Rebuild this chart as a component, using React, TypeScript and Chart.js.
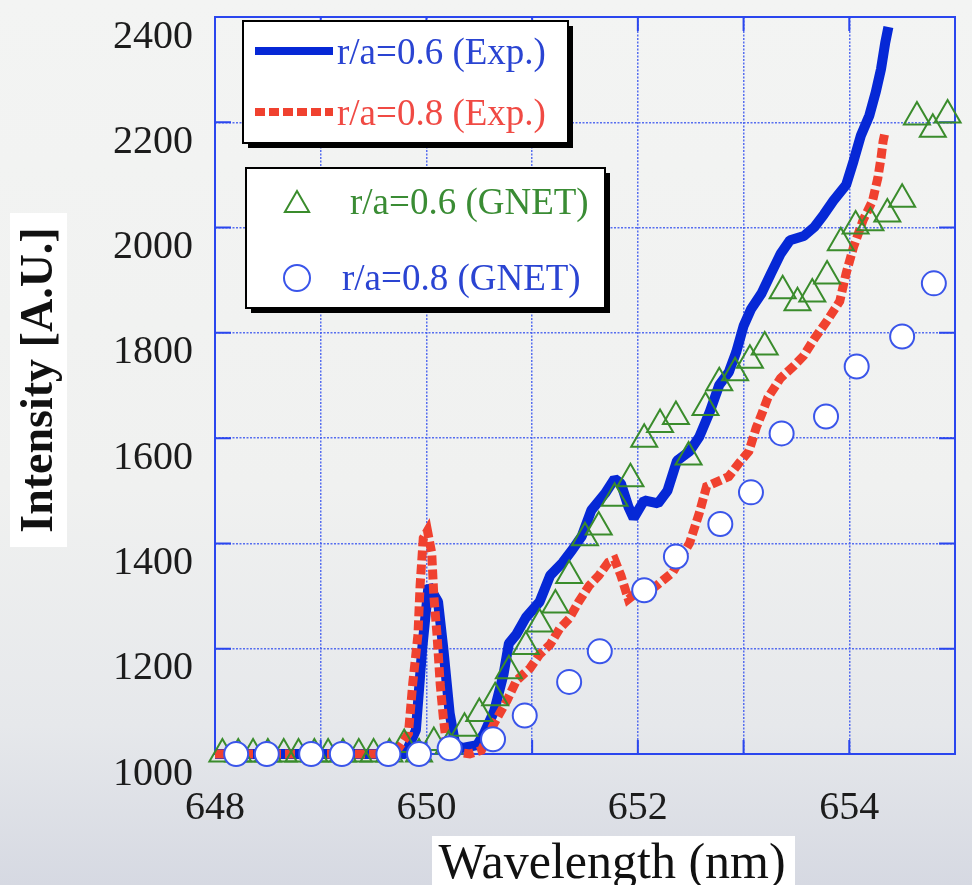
import React, { useEffect, useRef } from "react";
import { Chart, registerables } from "chart.js";

Chart.register(...registerables);

// ---------- data ----------
const xTickLabels = [648, 650, 652, 654];
const yTickValues = [1000, 1200, 1400, 1600, 1800, 2000, 2200, 2400];

const legendLabels = ["r/a=0.6 (Exp.)", "r/a=0.8 (Exp.)", "r/a=0.6 (GNET)", "r/a=0.8 (GNET)"];
const xTitle = "Wavelength (nm)";
const yTitle = "Intensity [A.U.]";

const exp06X = [648.0, 649.8, 649.9, 649.96, 650.02, 650.11, 650.16, 650.22, 650.27, 650.33, 650.48, 650.55, 650.64, 650.73, 650.78, 650.85, 650.94, 651.07, 651.17, 651.29, 651.38, 651.47, 651.56, 651.69, 651.78, 651.84, 651.91, 651.96, 652.06, 652.19, 652.28, 652.37, 652.49, 652.58, 652.68, 652.77, 652.86, 652.93, 653.0, 653.07, 653.17, 653.26, 653.35, 653.44, 653.57, 653.67, 653.76, 653.85, 653.97, 654.04, 654.11, 654.19, 654.25, 654.3, 654.34, 654.37];
const exp06Y = [1000, 1000, 1045, 1200, 1320, 1289, 1200, 1077, 1021, 1011, 1017, 1041, 1081, 1152, 1210, 1227, 1259, 1289, 1339, 1364, 1388, 1414, 1463, 1495, 1523, 1514, 1470, 1448, 1482, 1476, 1500, 1557, 1575, 1602, 1650, 1701, 1725, 1763, 1813, 1845, 1875, 1913, 1950, 1976, 1984, 2001, 2025, 2051, 2081, 2126, 2175, 2213, 2257, 2301, 2351, 2381];

const exp08X = [648.0, 649.7, 649.83, 649.87, 649.92, 649.94, 649.97, 650.01, 650.05, 650.07, 650.1, 650.13, 650.16, 650.19, 650.27, 650.41, 650.52, 650.64, 650.76, 650.85, 650.98, 651.07, 651.17, 651.26, 651.35, 651.44, 651.54, 651.63, 651.72, 651.78, 651.84, 651.91, 651.96, 652.06, 652.19, 652.33, 652.49, 652.58, 652.65, 652.77, 652.86, 652.95, 653.05, 653.12, 653.17, 653.23, 653.35, 653.48, 653.57, 653.67, 653.79, 653.91, 653.97, 654.04, 654.13, 654.22, 654.27, 654.3, 654.32, 654.34];
const exp08Y = [1000, 1000, 1039, 1133, 1227, 1320, 1410, 1424, 1382, 1300, 1227, 1133, 1069, 1017, 1004, 1000, 1007, 1058, 1101, 1139, 1163, 1189, 1208, 1238, 1257, 1289, 1320, 1339, 1364, 1369, 1339, 1294, 1302, 1302, 1322, 1345, 1401, 1457, 1508, 1519, 1527, 1551, 1575, 1620, 1645, 1677, 1714, 1738, 1757, 1789, 1823, 1860, 1913, 1963, 2014, 2051, 2094, 2132, 2164, 2183];

const gnet06X = [648.07, 648.22, 648.36, 648.5, 648.65, 648.79, 648.94, 649.07, 649.21, 649.36, 649.5, 649.65, 649.79, 649.93, 650.07, 650.21, 650.36, 650.5, 650.65, 650.78, 650.94, 651.07, 651.22, 651.35, 651.5, 651.63, 651.78, 651.93, 652.06, 652.21, 652.36, 652.48, 652.64, 652.77, 652.92, 653.06, 653.2, 653.37, 653.51, 653.65, 653.79, 653.92, 654.06, 654.2, 654.36, 654.5, 654.64, 654.79, 654.93];
const gnet06Y = [1000, 1000, 1000, 1000, 1000, 1000, 1000, 1000, 1000, 1000, 1000, 1000, 1018, 1000, 1022, 1015, 1049, 1077, 1107, 1158, 1204, 1247, 1283, 1339, 1411, 1431, 1486, 1523, 1598, 1626, 1641, 1564, 1658, 1705, 1724, 1748, 1773, 1880, 1857, 1874, 1908, 1971, 2003, 2009, 2026, 2054, 2210, 2187, 2214];

const gnet08X = [648.2, 648.49, 648.91, 649.2, 649.64, 649.93, 650.22, 650.63, 650.93, 651.35, 651.64, 652.06, 652.36, 652.78, 653.07, 653.36, 653.78, 654.07, 654.5, 654.8];
const gnet08Y = [1000, 1000, 1000, 1000, 1000, 1000, 1011, 1028, 1073, 1137, 1195, 1311, 1375, 1437, 1497, 1609, 1641, 1736, 1793, 1894];

// ---------- styles ----------
const W = 972;
const H = 885;
const SERIF = "'Liberation Serif', 'Times New Roman', 'DejaVu Serif', serif";
const BLUE_LINE = "#0628d6";
const RED_LINE = "#f0412f";
const GREEN = "#3a8c2c";
const CIRCLE_BLUE = "#3a55ea";
const AXIS_BLUE = "#2a46ee";
const GRID_BLUE = "rgba(70,95,238,0.9)";
const RED_DASH = [10, 4];

const zip = (xs: number[], ys: number[]) => xs.map((x, i) => ({ x, y: ys[i] }));

const framePlugin = {
  id: "frameTicks",
  beforeDatasetsDraw(chart: any) {
    const { ctx, chartArea: a, scales } = chart;
    const xs = scales.x;
    const ys = scales.y;
    ctx.save();
    ctx.strokeStyle = AXIS_BLUE;
    ctx.lineWidth = 2;
    ctx.setLineDash([]);
    ctx.strokeRect(a.left, a.top, a.right - a.left, a.bottom - a.top);
    ctx.beginPath();
    for (let v = 648; v <= 655; v += 1) {
      const px = xs.getPixelForValue(v);
      ctx.moveTo(px, a.bottom);
      ctx.lineTo(px, a.bottom - 14);
      ctx.moveTo(px, a.top);
      ctx.lineTo(px, a.top + 14);
    }
    for (const v of yTickValues) {
      const py = ys.getPixelForValue(v);
      ctx.moveTo(a.left, py);
      ctx.lineTo(a.left + 16, py);
      ctx.moveTo(a.right, py);
      ctx.lineTo(a.right - 16, py);
    }
    ctx.stroke();
    ctx.restore();
  },
};

const titlesPlugin = {
  id: "titlesBoxes",
  beforeDraw(chart: any) {
    const { ctx } = chart;
    ctx.save();
    ctx.fillStyle = "#ffffff";
    ctx.fillRect(10, 213, 57, 334);
    ctx.fillRect(432, 836, 363, 49);
    ctx.fillStyle = "#111111";
    ctx.font = `bold 46px ${SERIF}`;
    ctx.textAlign = "center";
    ctx.textBaseline = "middle";
    ctx.translate(40, 380);
    ctx.rotate(-Math.PI / 2);
    ctx.fillText(yTitle, 0, 0);
    ctx.setTransform(1, 0, 0, 1, 0, 0);
    ctx.font = `50px ${SERIF}`;
    ctx.textAlign = "center";
    ctx.textBaseline = "alphabetic";
    ctx.fillText(xTitle, 612, 878);
    ctx.restore();
  },
};

function drawBox(ctx: CanvasRenderingContext2D, x: number, y: number, w: number, h: number) {
  ctx.fillStyle = "#000000";
  ctx.fillRect(x + 5, y + 5, w, h);
  ctx.fillStyle = "#ffffff";
  ctx.fillRect(x, y, w, h);
  ctx.strokeStyle = "#000000";
  ctx.lineWidth = 2;
  ctx.strokeRect(x, y, w, h);
}

const legendPlugin = {
  id: "customLegend",
  afterDraw(chart: any) {
    const { ctx } = chart;
    ctx.save();
    drawBox(ctx, 243, 21, 325, 122);
    drawBox(ctx, 246, 168, 359, 140);
    ctx.font = `37px ${SERIF}`;
    ctx.textAlign = "left";
    ctx.textBaseline = "middle";
    ctx.strokeStyle = BLUE_LINE;
    ctx.lineWidth = 8;
    ctx.beginPath();
    ctx.moveTo(255, 51);
    ctx.lineTo(333, 51);
    ctx.stroke();
    ctx.fillStyle = "#2a44d2";
    ctx.fillText(legendLabels[0], 337, 54);
    ctx.strokeStyle = RED_LINE;
    ctx.setLineDash(RED_DASH);
    ctx.beginPath();
    ctx.moveTo(255, 112);
    ctx.lineTo(333, 112);
    ctx.stroke();
    ctx.setLineDash([]);
    ctx.fillStyle = "#f04a44";
    ctx.fillText(legendLabels[1], 337, 115);
    const r = 14;
    const tx = 297, ty = 205;
    ctx.strokeStyle = GREEN;
    ctx.lineWidth = 2;
    ctx.beginPath();
    ctx.moveTo(tx, ty - r);
    ctx.lineTo(tx + Math.sin((2 * Math.PI) / 3) * r, ty - Math.cos((2 * Math.PI) / 3) * r);
    ctx.lineTo(tx + Math.sin((4 * Math.PI) / 3) * r, ty - Math.cos((4 * Math.PI) / 3) * r);
    ctx.closePath();
    ctx.stroke();
    ctx.fillStyle = "#3a8c34";
    ctx.fillText(legendLabels[2], 350, 204);
    ctx.strokeStyle = CIRCLE_BLUE;
    ctx.beginPath();
    ctx.arc(297, 278, 13, 0, Math.PI * 2);
    ctx.stroke();
    ctx.fillStyle = "#2a44d2";
    ctx.fillText(legendLabels[3], 342, 280);
    ctx.restore();
  },
};

export default function App() {
  const canvasRef = useRef<HTMLCanvasElement | null>(null);

  useEffect(() => {
    const canvas = canvasRef.current;
    if (!canvas) return;
    const chart = new Chart(canvas, {
      type: "scatter",
      data: {
        datasets: [
          {
            label: legendLabels[0],
            data: zip(exp06X, exp06Y),
            showLine: true,
            borderColor: BLUE_LINE,
            backgroundColor: BLUE_LINE,
            borderWidth: 10,
            pointRadius: 0,
            tension: 0,
            borderJoinStyle: "bevel",
            order: 4,
            clip: false,
          } as any,
          {
            label: legendLabels[1],
            data: zip(exp08X, exp08Y),
            showLine: true,
            borderColor: RED_LINE,
            backgroundColor: RED_LINE,
            borderWidth: 9,
            borderDash: RED_DASH,
            pointRadius: 0,
            tension: 0,
            order: 3,
            clip: false,
          } as any,
          {
            label: legendLabels[2],
            data: zip(gnet06X, gnet06Y),
            showLine: false,
            pointStyle: "triangle",
            pointRadius: 15,
            borderColor: GREEN,
            backgroundColor: "rgba(0,0,0,0)",
            borderWidth: 2,
            order: 2,
            clip: false,
          } as any,
          {
            label: legendLabels[3],
            data: zip(gnet08X, gnet08Y),
            showLine: false,
            pointStyle: "circle",
            pointRadius: 12,
            borderColor: CIRCLE_BLUE,
            backgroundColor: "#ffffff",
            borderWidth: 2,
            order: 1,
            clip: false,
          } as any,
        ],
      },
      options: {
        animation: false,
        responsive: false,
        maintainAspectRatio: false,
        layout: { padding: { top: 7, right: 1, left: 0, bottom: 0 } },
        plugins: {
          legend: { display: false },
          tooltip: { enabled: false },
        },
        scales: {
          x: {
            type: "linear",
            min: 648,
            max: 655,
            afterFit: (s: any) => {
              s.height = 131;
              s.paddingLeft = 0;
              s.paddingRight = 0;
            },
            ticks: {
              stepSize: 1,
              autoSkip: false,
              maxRotation: 0,
              padding: 30,
              color: "#1c1c1c",
              font: { family: SERIF, size: 40 },
              callback: (v: any) => (xTickLabels.includes(Number(v)) ? String(v) : ""),
            },
            grid: {
              color: GRID_BLUE,
              lineWidth: 1.5,
              drawTicks: false,
            },
            border: { display: false, dash: [2, 1.5] },
          },
          y: {
            type: "linear",
            min: 1000,
            max: 2400,
            afterFit: (s: any) => {
              s.width = 215;
              s.paddingTop = 0;
              s.paddingBottom = 0;
            },
            ticks: {
              stepSize: 200,
              autoSkip: false,
              padding: 22,
              labelOffset: 20,
              color: "#1c1c1c",
              font: { family: SERIF, size: 40 },
              callback: (v: any) => String(v),
            },
            grid: {
              color: GRID_BLUE,
              lineWidth: 1.5,
              drawTicks: false,
            },
            border: { display: false, dash: [2, 1.5] },
          },
        },
      },
      plugins: [titlesPlugin, framePlugin, legendPlugin],
    });
    return () => chart.destroy();
  }, []);

  return (
    <div
      style={{
        position: "absolute",
        left: 0,
        top: 0,
        width: W,
        height: H,
        overflow: "hidden",
        background: "linear-gradient(to bottom, #f3f4f3 0%, #f0f1f0 55%, #e6e8eb 82%, #d6d9e2 100%)",
      }}
    >
      <canvas ref={canvasRef} width={W} height={H} style={{ width: W, height: H, display: "block" }} />
    </div>
  );
}
